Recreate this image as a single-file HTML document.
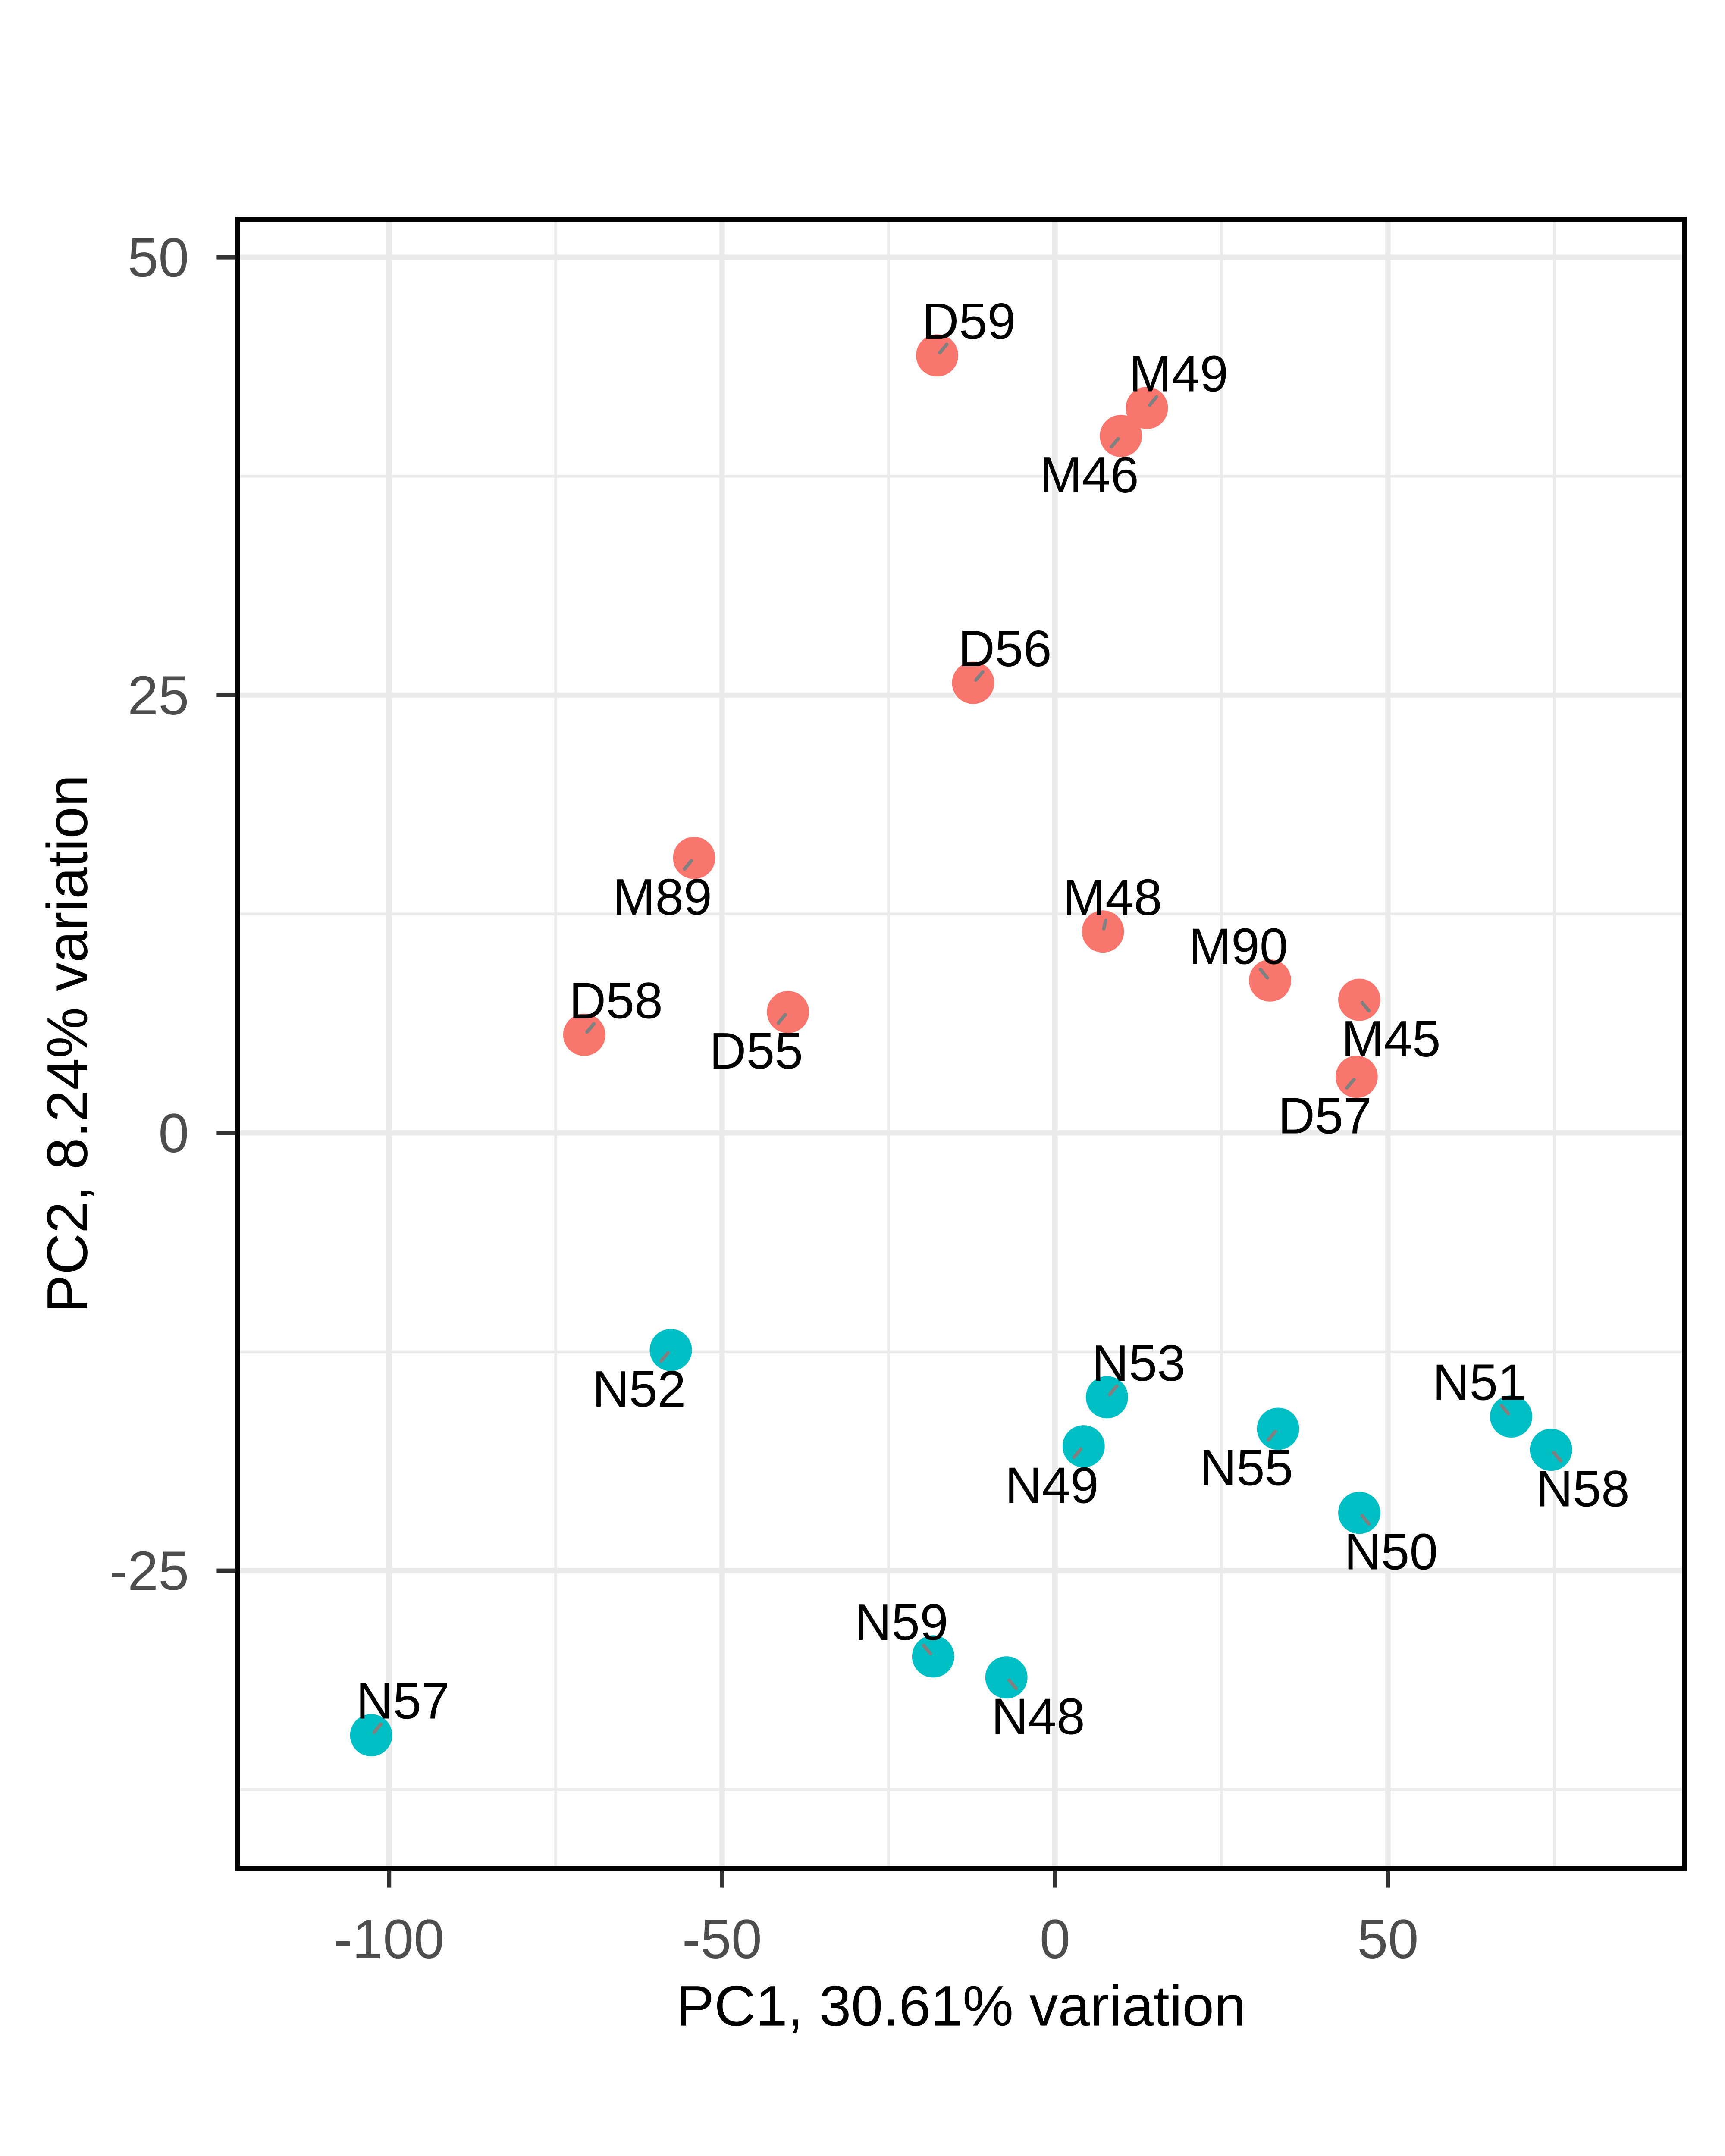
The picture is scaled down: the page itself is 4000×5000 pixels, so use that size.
<!DOCTYPE html>
<html><head><meta charset="utf-8"><style>html,body{margin:0;padding:0;background:#fff}svg{display:block}</style></head>
<body>
<svg id="chart" xmlns="http://www.w3.org/2000/svg" width="4000" height="5000" viewBox="0 0 1250 1562.5" font-family="Liberation Sans, Arial, sans-serif"></svg>
<script>
const sampleNames = ["D59","M49","M46","D56","M89","M48","M90","M45","D57","D58","D55","N52","N53","N49","N55","N51","N58","N50","N59","N48","N57"];
const pc1Values = [-17.7,13.8,9.9,-12.3,-54.2,7.2,32.3,45.7,45.3,-70.7,-40.1,-57.7,7.8,4.3,33.5,68.5,74.5,45.7,-18.3,-7.3,-102.7];
const pc2Values = [44.4,41.4,39.8,25.7,15.7,11.5,8.7,7.6,3.2,5.6,6.9,-12.4,-15.1,-17.9,-16.9,-16.2,-18.1,-21.7,-29.9,-31.1,-34.4];
const groupValues = ["D","M","M","D","M","M","M","M","D","D","D","N","N","N","N","N","N","N","N","N","N"];
const xTickValues = [-100,-50,0,50];
const xTickLabels = ["-100","-50","0","50"];
const yTickValues = [-25,0,25,50];
const yTickLabels = ["-25","0","25","50"];
const xMinorValues = [-75,-25,25,75];
const yMinorValues = [-37.5,-12.5,12.5,37.5];
const labelDirs = [[1,-1],[1,-1],[-1,1],[1,-1],[-1,1],[0.3,-1],[-1,-1],[1,1],[-1,1],[1,-1],[-1,1],[-1,1],[1,-1],[-1,1],[-1,1],[-1,-1],[1,1],[1,1],[-1,-1],[1,1],[1,-1]];

const svg = document.getElementById('chart');
const NS = 'http://www.w3.org/2000/svg';
const L = 172.2, R = 1220.5, T = 159, B = 1354;
const X0 = 764.5, XU = 4.825, Y0 = 821, YU = 12.69;
const sx = v => X0 + v * XU;
const sy = v => Y0 - v * YU;
function mk(tag, attrs){ const e = document.createElementNS(NS, tag); for (const k in attrs) e.setAttribute(k, attrs[k]); svg.appendChild(e); return e; }

let bg = mk('rect', {x:L, y:T, width:R-L, height:B-T, fill:'#fff'});



xMinorValues.forEach(v => {
  const g = mk('line', {x1:sx(v), x2:sx(v), y1:T, y2:B, stroke:'#EBEBEB', 'stroke-width':2});
  
  
});
yMinorValues.forEach(v => {
  const g = mk('line', {x1:L, x2:R, y1:sy(v), y2:sy(v), stroke:'#EBEBEB', 'stroke-width':2});
  
  
});
xTickValues.forEach(v => {
  const g = mk('line', {x1:sx(v), x2:sx(v), y1:T, y2:B, stroke:'#EBEBEB', 'stroke-width':4});
  
  
});
yTickValues.forEach(v => {
  const g = mk('line', {x1:L, x2:R, y1:sy(v), y2:sy(v), stroke:'#EBEBEB', 'stroke-width':4});
  
  
});

const colors = {D:'#F8766D', M:'#F8766D', N:'#00BFC4'};
sampleNames.forEach((n, i) => {
  const cx = sx(pc1Values[i]), cy = sy(pc2Values[i]);
  const c = mk('circle', {cx:cx, cy:cy, r:15.3, fill:colors[groupValues[i]]});
  
  
  const d = labelDirs[i];
  const s = mk('line', {x1:cx + d[0]*2, y1:cy + d[1]*2, x2:cx + d[0]*7, y2:cy + d[1]*8, stroke:'#808080', 'stroke-width':2.5, 'stroke-linecap':'round'});
  
  
  const t = mk('text', {x:cx + d[0]*23, y:cy + (d[1] < 0 ? -25 : 28) + 13, 'font-size':37, 'text-anchor':'middle', fill:'#000'});
  t.textContent = n;
  
  
});

let br = mk('rect', {x:L, y:T, width:R-L, height:B-T, fill:'none', stroke:'#000', 'stroke-width':3.5});



xTickValues.forEach((v, i) => {
  const tk = mk('line', {x1:sx(v), x2:sx(v), y1:B+1.5, y2:B+14, stroke:'#333', 'stroke-width':3});
  
  
  const t = mk('text', {x:sx(v), y:1419, 'font-size':40, 'text-anchor':'middle', fill:'#4D4D4D'});
  t.textContent = xTickLabels[i];
  
  
});
yTickValues.forEach((v, i) => {
  const tk = mk('line', {x1:157, x2:L-1.5, y1:sy(v), y2:sy(v), stroke:'#333', 'stroke-width':3});
  
  
  const t = mk('text', {x:137, y:sy(v)+14, 'font-size':40, 'text-anchor':'end', fill:'#4D4D4D'});
  t.textContent = yTickLabels[i];
  
  
});

let xt = mk('text', {x:(L+R)/2, y:1468, 'font-size':41.5, 'text-anchor':'middle', fill:'#000'});
xt.textContent = 'PC1, 30.61% variation';


let yt = mk('text', {x:0, y:0, 'font-size':41.5, 'text-anchor':'middle', fill:'#000', transform:'translate(63,' + ((T+B)/2) + ') rotate(-90)'});
yt.textContent = 'PC2, 8.24% variation';


</script>
</body></html>
